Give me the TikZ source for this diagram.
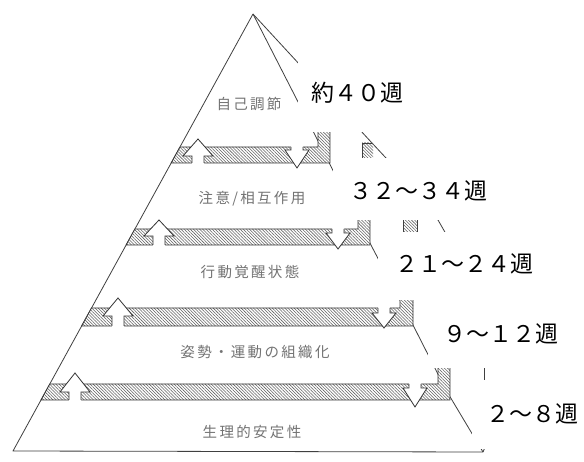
\documentclass[tikz,border=0pt]{standalone}
\usepackage{fontspec}
\newfontfamily\jpfont{Noto Sans CJK JP}
\newfontfamily\jpspaced[LetterSpace=16]{Noto Sans CJK JP}
\usetikzlibrary{patterns.meta}
\tikzset{
  edge/.style={draw=black!75, line width=0.8pt, line join=round},
  hatchband/.style={draw=black!80, line width=0.8pt, preaction={fill=white},
    pattern={Lines[angle=-45,distance=2.2pt,line width=0.55pt]}, pattern color=black!62},
  hatchonly/.style={pattern={Lines[angle=-45,distance=2.2pt,line width=0.55pt]}, pattern color=black!62},
  arrowline/.style={draw=black!80, line width=0.8pt, line join=miter},
  layertext/.style={text=black!55, font=\jpspaced\fontsize{14.5}{16}\selectfont, inner sep=0pt},
  weektext/.style={text=black, font=\jpfont\fontsize{23}{26}\selectfont, inner sep=0pt},
  cover/.style={fill=white, draw=none},
}
% up arrow: center x, tip y, head-base y, band bottom y
\newcommand\pyrUp[4]{%
  \fill[white] ({#1-6},{#4+0.8}) -- ({#1-6},#3) -- ({#1-15},#3) -- (#1,#2) -- ({#1+15},#3) -- ({#1+6},#3) -- ({#1+6},{#4+0.8}) -- cycle;
  \draw[arrowline] ({#1-6},#4) -- ({#1-6},#3) -- ({#1-15},#3) -- (#1,#2) -- ({#1+15},#3) -- ({#1+6},#3) -- ({#1+6},#4);}
% down arrow: center x, band top y, head-base y, tip y
\newcommand\pyrDown[4]{%
  \fill[white] ({#1-6},{#2-0.8}) -- ({#1-6},#3) -- ({#1-12},#3) -- (#1,#4) -- ({#1+12},#3) -- ({#1+6},#3) -- ({#1+6},{#2-0.8}) -- cycle;
  \draw[arrowline] ({#1-6},#2) -- ({#1-6},#3) -- ({#1-12},#3) -- (#1,#4) -- ({#1+12},#3) -- ({#1+6},#3) -- ({#1+6},#2);}
\begin{document}
\begin{tikzpicture}[x=1pt,y=-1pt]
\useasboundingbox (0,0) rectangle (584,462);
\fill[white] (0,0) rectangle (584,462);

% pyramid outline
\coordinate (apex) at (253,14);
\coordinate (bl) at (13,451);
\coordinate (br) at (483,452);
\draw[edge] (apex) -- (bl) -- (br);
\draw[edge] (apex) -- (316,137) -- (372,247) -- (414,327) -- (446,390) -- (br);
\draw[edge] (br) -- (486,445);
% side face edge
\draw[edge] (apex) -- (372,143) -- (386,158) -- (438,220) -- (446,234);
% side face band fragments
\fill[hatchonly] (362,143) rectangle (373,172);
\draw[edge] (362,172) -- (362,143) -- (372,143);
\fill[hatchonly] (403,210) rectangle (417,242);
\draw[edge] (403,210) -- (403,242);
\draw[edge] (417,210) -- (417,242);
\draw[edge] (484,360) -- (484,390);

% hatched bands
\draw[hatchband] (180.0,147) -- (318,147) -- (318,122) -- (330,122) -- (330,163) -- (171.2,163) -- cycle;
\draw[hatchband] (134.9,229) -- (358,229) -- (358,204) -- (370,204) -- (370,245) -- (126.1,245) -- cycle;
\draw[hatchband] (91.5,308) -- (400,308) -- (400,283) -- (413,283) -- (413,326) -- (81.6,326) -- cycle;
\draw[hatchband] (49.8,384) -- (438,384) -- (438,359) -- (450,359) -- (450,400) -- (41.0,400) -- cycle;

% arrows
\pyrUp{198}{139}{156}{163}
\pyrDown{297}{147}{150}{168}
\pyrUp{159}{220}{236}{245}
\pyrDown{338}{229}{233}{249}
\pyrUp{118}{298}{316}{326}
\pyrDown{384}{308}{313}{328}
\pyrUp{75}{373}{392}{400}
\pyrDown{415}{384}{388}{407}

% layer labels
\node[layertext] (l1) at (249,104) {自己調節};
\node[layertext] (l2) at (252,199) {注意/相互作用};
\node[layertext] (l3) at (250,272) {行動覚醒状態};
\node[layertext] (l4) at (255,352) {姿勢・運動の組織化};
\node[layertext] (l5) at (252,432) {生理的安定性};

% white label boxes
\fill[cover] (298,58) rectangle (417,132);
\fill[cover] (333,158) rectangle (560,220);
\fill[cover] (378,232) rectangle (584,300);
\fill[cover] (428,300) rectangle (584,368);
\fill[cover] (472,380) rectangle (584,449);

% week labels
\node[weektext] (w1) at (357,93) {約４０週};
\node[weektext] (w2) at (418,191) {３２～３４週};
\node[weektext] (w3) at (464,264) {２１～２４週};
\node[weektext] (w4) at (501,334) {９～１２週};
\node[weektext] (w5) at (532,414) {２～８週};
\end{tikzpicture}
\end{document}
